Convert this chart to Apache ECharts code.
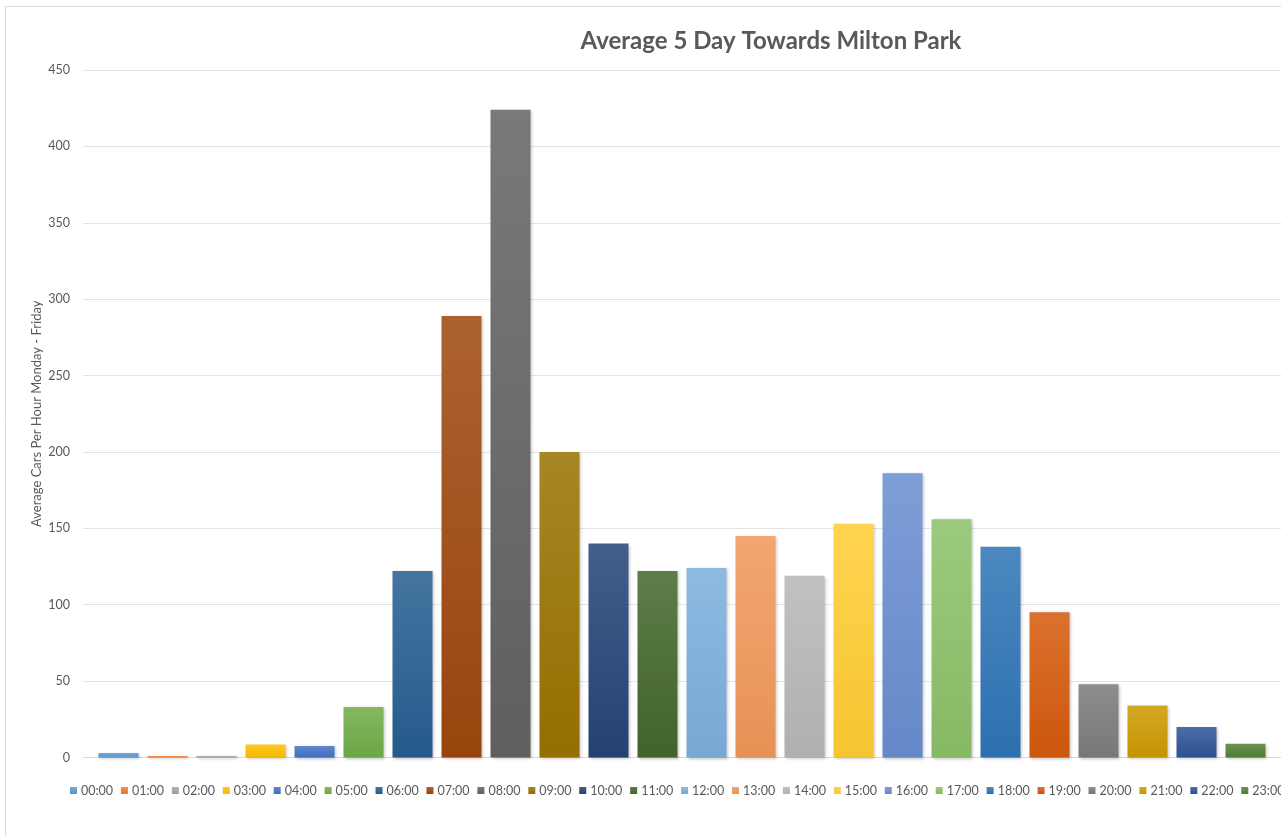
<!DOCTYPE html>
<html>
<head>
<meta charset="utf-8">
<script src="https://cdn.jsdelivr.net/npm/echarts@6/dist/echarts.min.js"></script>
<style>
html,body{margin:0;padding:0;background:#fff;overflow:hidden;}
#chart{width:1281px;height:836px;}
</style>
</head>
<body>
<div id="chart"></div>
<script>
const hours = ["00:00","01:00","02:00","03:00","04:00","05:00","06:00","07:00","08:00","09:00","10:00","11:00",
               "12:00","13:00","14:00","15:00","16:00","17:00","18:00","19:00","20:00","21:00","22:00","23:00"];
const carsPerHour = [3, 1, 1, 8.5, 7.5, 33, 122, 289, 424, 200, 140, 122,
                     124, 145, 119, 153, 186, 156, 138, 95, 48, 34, 20, 9];
const yTicks = [0, 50, 100, 150, 200, 250, 300, 350, 400, 450];

const palette = ["#5B9BD5","#ED7D31","#A5A5A5","#FFC000","#4472C4","#70AD47",
                 "#255E91","#9E480E","#636363","#997300","#264478","#43682B",
                 "#7CAFDD","#F1975A","#B7B7B7","#FFCD33","#698ED0","#8CC168",
                 "#2E75B6","#D55A0C","#7C7C7C","#CC9A00","#2F5597","#548235"];

function mix(hex, target, t){
  const c = parseInt(hex.slice(1),16);
  const r=(c>>16)&255,g=(c>>8)&255,b=c&255;
  const f=v=>Math.round(v+(target-v)*t);
  return 'rgb('+f(r)+','+f(g)+','+f(b)+')';
}

const series = hours.map((h,i)=>({
  name: h,
  type: 'bar',
  data: [carsPerHour[i]],
  barWidth: 40,
  barGap: '22.5%',
  itemStyle: {
    color: new echarts.graphic.LinearGradient(0,0,0,1,[
      {offset:0,color:mix(palette[i],255,0.14)},
      {offset:1,color:mix(palette[i],0,0.04)}
    ]),
    shadowBlur: 3,
    shadowColor: 'rgba(0,0,0,0.25)',
    shadowOffsetX: 1,
    shadowOffsetY: 1
  }
}));

const chart = echarts.init(document.getElementById('chart'), null, {renderer:'canvas'});
chart.setOption({
  animation: false,
  backgroundColor: '#fff',
  color: palette,
  title: {
    text: 'Average 5 Day Towards Milton Park',
    left: 766,
    top: 24,
    textAlign: 'center',
    textStyle: {fontFamily: 'Lato', fontSize: 24, fontWeight: 'bold', color: '#595959'}
  },
  graphic: [{
    type: 'rect',
    shape: {x: 5.5, y: 6.5, width: 1500, height: 1000},
    style: {fill: 'none', stroke: '#d9d9d9', lineWidth: 1},
    silent: true,
    z: -10
  }],
  legend: {
    data: hours,
    left: 65,
    top: 779,
    width: 1600,
    itemWidth: 7,
    itemHeight: 7,
    itemGap: 7.8,
    icon: 'rect',
    textStyle: {fontFamily: 'Lato', fontSize: 12.5, color: '#595959', padding: [0,0,0,-1]}
  },
  grid: {left: 83, right: 0, top: 70, bottom: 78.5},
  xAxis: {
    type: 'category',
    data: [''],
    axisLine: {show: true, lineStyle: {color: '#d9d9d9'}},
    axisTick: {show: false},
    axisLabel: {show: false}
  },
  yAxis: {
    type: 'value',
    min: yTicks[0],
    max: yTicks[yTicks.length-1],
    interval: yTicks[1]-yTicks[0],
    name: 'Average Cars Per Hour Monday - Friday',
    nameLocation: 'middle',
    nameGap: 40,
    nameRotate: 90,
    nameMoveOverlap: false,
    nameTextStyle: {fontFamily: 'Lato', fontSize: 13, color: '#595959'},
    axisLine: {show: false},
    axisTick: {show: false},
    axisLabel: {fontFamily: 'Lato', fontSize: 12.5, color: '#595959', margin: 13},
    splitLine: {lineStyle: {color: '#e3e3e3', width: 1}}
  },
  series: series
});
</script>
</body>
</html>
